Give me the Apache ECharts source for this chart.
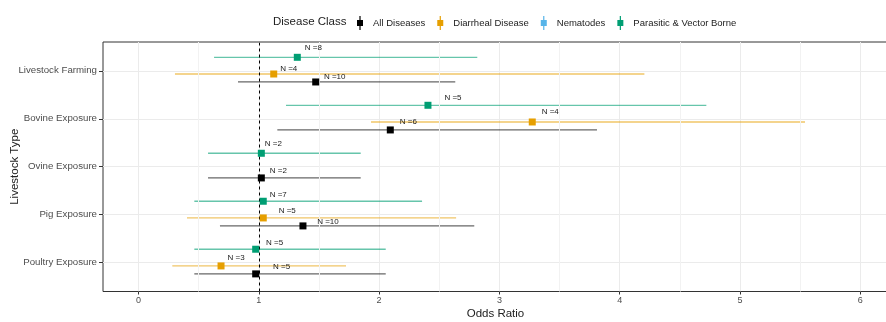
<!DOCTYPE html>
<html>
<head>
<meta charset="utf-8">
<script src="https://cdn.jsdelivr.net/npm/echarts@6/dist/echarts.min.js"></script>
<style>
html,body{margin:0;padding:0;background:#fff;}
#chart{width:886px;height:322px;}
</style>
</head>
<body>
<div id="chart"></div>
<script>
// ---- data ----
const categories = ['Poultry Exposure', 'Pig Exposure', 'Ovine Exposure', 'Bovine Exposure', 'Livestock Farming'];
const xTicks = [0, 1, 2, 3, 4, 5, 6];
const xMinorTicks = [0.5, 1.5, 2.5, 3.5, 4.5, 5.5];
const referenceOR = 1;

const allCats = ['Livestock Farming', 'Bovine Exposure', 'Ovine Exposure', 'Pig Exposure', 'Poultry Exposure'];
const allOR   = [1.473, 2.093, 1.021, 1.367, 0.974];
const allLo   = [0.827, 1.154, 0.578, 0.677, 0.464];
const allHi   = [2.633, 3.811, 1.847, 2.791, 2.055];
const allN    = [10, 6, 2, 10, 5];

const diaCats = ['Livestock Farming', 'Bovine Exposure', 'Pig Exposure', 'Poultry Exposure'];
const diaOR   = [1.124, 3.273, 1.037, 0.686];
const diaLo   = [0.303, 1.933, 0.403, 0.281];
const diaHi   = [4.205, 5.540, 2.640, 1.725];
const diaN    = [4, 4, 5, 3];

const parCats = ['Livestock Farming', 'Bovine Exposure', 'Ovine Exposure', 'Pig Exposure', 'Poultry Exposure'];
const parOR   = [1.320, 2.406, 1.021, 1.037, 0.974];
const parLo   = [0.628, 1.226, 0.578, 0.464, 0.464];
const parHi   = [2.816, 4.720, 1.847, 2.357, 2.055];
const parN    = [8, 5, 2, 7, 5];

// ---- layout / style (not data) ----
const dodge = { all: -0.233, dia: -0.067, par: 0.281 };
const allNudge = [[19, -5], [18, -8], [17, -7], [25, -4], [26, -7]];
const diaNudge = [[15, -5], [18, -10], [24, -7], [15, -8]];
const parNudge = [[16, -10], [25, -7], [12, -9], [15, -6], [19, -6]];
const colors = { all: '#000000', dia: '#E69F00', nem: '#56B4E9', par: '#009E73' };
const FONT = 'Liberation Sans, Arial, sans-serif';

function yOf(cat, off) { return categories.indexOf(cat) + 1 + off; }

function barData(cats, lo, hi, off) {
  return cats.map((c, i) => [lo[i], hi[i], yOf(c, off)]);
}
function pointData(cats, or, n, nudge, off) {
  return cats.map((c, i) => ({
    value: [or[i], yOf(c, off), n[i]],
    label: { offset: nudge[i] }
  }));
}

function errSeries(name, data, color) {
  return {
    type: 'custom', name: name, silent: true, z: 2,
    data: data,
    encode: { x: [0, 1], y: 2 },
    renderItem: function (params, api) {
      const p1 = api.coord([api.value(0), api.value(2)]);
      const p2 = api.coord([api.value(1), api.value(2)]);
      return {
        type: 'line',
        shape: { x1: p1[0], y1: p1[1], x2: p2[0], y2: p2[1] },
        style: { stroke: color, lineWidth: 1.3, opacity: 0.6 }
      };
    }
  };
}
function pointSeries(name, data, color) {
  return {
    type: 'scatter', name: name, z: 5,
    symbol: 'rect', symbolSize: 7,
    itemStyle: { color: color, opacity: 1 },
    data: data,
    label: {
      show: true, position: 'inside',
      formatter: p => 'N =' + p.value[2],
      fontSize: 8, color: '#1a1a1a', fontFamily: FONT
    },
    emphasis: { disabled: true }
  };
}

const legendIcon = 'path://M2.4,0 L3.6,0 L3.6,4 L6,4 L6,10 L3.6,10 L3.6,14 L2.4,14 L2.4,10 L0,10 L0,4 L2.4,4 Z';
const minorStyle = { color: '#f2f2f2', width: 1, type: 'solid', opacity: 1 };

const chart = echarts.init(document.getElementById('chart'), null, { renderer: 'canvas' });
chart.setOption({
  backgroundColor: '#ffffff',
  animation: false,
  title: {
    text: 'Disease Class', left: 268, top: 11,
    textStyle: { fontSize: 11.5, fontWeight: 'normal', color: '#222', fontFamily: FONT }
  },
  legend: {
    left: 352, top: 11,
    itemWidth: 6, itemHeight: 14, itemGap: 12,
    icon: legendIcon,
    textStyle: { fontSize: 9.5, color: '#222', fontFamily: FONT, padding: [0, 0, 0, 5] },
    data: [
      { name: 'All Diseases', itemStyle: { color: colors.all } },
      { name: 'Diarrheal Disease', itemStyle: { color: colors.dia } },
      { name: 'Nematodes', itemStyle: { color: colors.nem } },
      { name: 'Parasitic & Vector Borne', itemStyle: { color: colors.par } }
    ],
    selectedMode: false
  },
  grid: {
    left: 103, top: 42, right: -2, bottom: 30.5,
    containLabel: false, outerBoundsMode: 'none',
    show: true, borderColor: '#333', borderWidth: 1, backgroundColor: '#fff'
  },
  xAxis: {
    type: 'value', min: -0.2951, max: 6.230,
    name: 'Odds Ratio', nameLocation: 'middle', nameGap: 16, nameMoveOverlap: false,
    nameTextStyle: { fontSize: 11.5, color: '#222', fontFamily: FONT },
    axisLine: { show: false, onZero: false },
    axisTick: { show: true, length: 3, lineStyle: { color: '#333' }, customValues: xTicks },
    axisLabel: { customValues: xTicks, fontSize: 9, color: '#4d4d4d', margin: 5, fontFamily: FONT },
    splitLine: { show: true, lineStyle: { color: '#ebebeb', width: 1 } }
  },
  yAxis: {
    type: 'value', min: 0.4, max: 5.6,
    name: 'Livestock Type', nameLocation: 'middle', nameGap: 82, nameRotate: 90, nameMoveOverlap: false,
    nameTextStyle: { fontSize: 11.5, color: '#222', fontFamily: FONT },
    axisLine: { show: false, onZero: false },
    axisTick: { show: true, length: 4, lineStyle: { color: '#333' }, customValues: [1, 2, 3, 4, 5] },
    axisLabel: {
      customValues: [1, 2, 3, 4, 5], fontSize: 9.7, color: '#4d4d4d', margin: 6, fontFamily: FONT,
      formatter: v => categories[Math.round(v) - 1]
    },
    splitLine: { show: true, lineStyle: { color: '#ebebeb', width: 1 } }
  },
  series: [
    {
      type: 'custom', name: 'grid-minor', silent: true, z: 1, data: [],
      renderItem: () => null,
      markLine: {
        silent: true, symbol: 'none', label: { show: false }, animation: false,
        lineStyle: minorStyle,
        emphasis: { disabled: true },
        data: xMinorTicks.map(v => ({ xAxis: v, lineStyle: minorStyle }))
      }
    },
    errSeries('Parasitic & Vector Borne', barData(parCats, parLo, parHi, dodge.par), colors.par),
    errSeries('Diarrheal Disease', barData(diaCats, diaLo, diaHi, dodge.dia), colors.dia),
    errSeries('All Diseases', barData(allCats, allLo, allHi, dodge.all), colors.all),
    {
      type: 'custom', name: 'ref', silent: true, z: 3, data: [],
      renderItem: () => null,
      markLine: {
        silent: true, symbol: 'none', label: { show: false }, animation: false,
        lineStyle: { color: '#000', width: 1, type: [3, 3] },
        emphasis: { disabled: true },
        data: [{ xAxis: referenceOR }]
      }
    },
    pointSeries('All Diseases', pointData(allCats, allOR, allN, allNudge, dodge.all), colors.all),
    pointSeries('Diarrheal Disease', pointData(diaCats, diaOR, diaN, diaNudge, dodge.dia), colors.dia),
    pointSeries('Nematodes', [], colors.nem),
    pointSeries('Parasitic & Vector Borne', pointData(parCats, parOR, parN, parNudge, dodge.par), colors.par)
  ]
});
</script>
</body>
</html>
